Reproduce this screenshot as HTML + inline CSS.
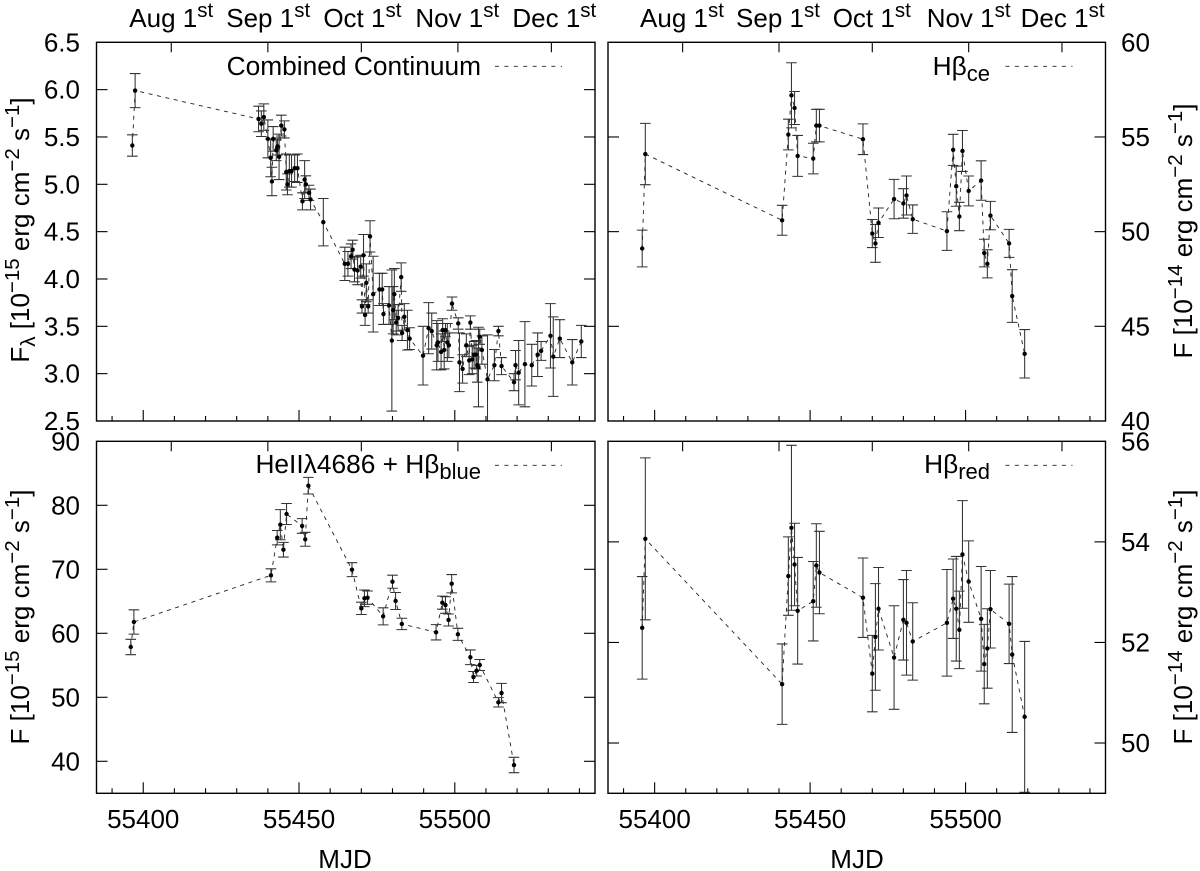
<!DOCTYPE html>
<html lang="en">
<head>
<meta charset="utf-8">
<title>Light curves</title>
<style>
html,body{margin:0;padding:0;background:#fff;}
svg{display:block;}
text{font-family:"Liberation Sans",sans-serif;font-size:26px;fill:#000;}
.s{font-size:20.5px;}
.k{font-size:26.3px;}
.b{font-size:22px;}
</style>
</head>
<body>
<svg id="chart" width="1200" height="871" viewBox="0 0 1200 871" xmlns="http://www.w3.org/2000/svg">
<rect x="0" y="0" width="1200" height="871" fill="#fff"/>
<g id="panels"></g>

<text class="k" x="481" y="75" text-anchor="end">Combined Continuum</text>
<text class="k" x="990" y="75" text-anchor="end">Hβ<tspan class="b" dy="6">ce</tspan></text>
<text class="k" x="481" y="473" text-anchor="end">HeIIλ4686 + Hβ<tspan class="b" dy="6">blue</tspan></text>
<text class="k" x="990" y="473" text-anchor="end">Hβ<tspan class="b" dy="6">red</tspan></text>

<text transform="translate(29,230) rotate(-90)" text-anchor="middle">F<tspan class="s" dy="6">λ</tspan><tspan dy="-6"> [10</tspan><tspan class="s" dy="-10">−15</tspan><tspan dy="10"> erg cm</tspan><tspan class="s" dy="-10">−2</tspan><tspan dy="10"> s</tspan><tspan class="s" dy="-10">−1</tspan><tspan dy="10">]</tspan></text>
<text transform="translate(29,617) rotate(-90)" text-anchor="middle">F [10<tspan class="s" dy="-10">−15</tspan><tspan dy="10"> erg cm</tspan><tspan class="s" dy="-10">−2</tspan><tspan dy="10"> s</tspan><tspan class="s" dy="-10">−1</tspan><tspan dy="10">]</tspan></text>
<text transform="translate(1192,231) rotate(-90)" text-anchor="middle">F [10<tspan class="s" dy="-10">−14</tspan><tspan dy="10"> erg cm</tspan><tspan class="s" dy="-10">−2</tspan><tspan dy="10"> s</tspan><tspan class="s" dy="-10">−1</tspan><tspan dy="10">]</tspan></text>
<text transform="translate(1192,617) rotate(-90)" text-anchor="middle">F [10<tspan class="s" dy="-10">−14</tspan><tspan dy="10"> erg cm</tspan><tspan class="s" dy="-10">−2</tspan><tspan dy="10"> s</tspan><tspan class="s" dy="-10">−1</tspan><tspan dy="10">]</tspan></text>

<text x="345" y="868" text-anchor="middle">MJD</text>
<text x="857" y="868" text-anchor="middle">MJD</text>
</svg>
<script>
const contMjd = [55396.5,55397.4,55437,55437.9,55438.7,55440,55440.9,55441.3,55441.7,55442.7,55443.1,55443.6,55444.3,55445.3,55445.9,55446.3,55446.9,55447.6,55448.6,55449.5,55451.1,55451.8,55452.2,55453.2,55453.7,55457.8,
55464.7,55465.7,55466.7,55467.2,55467.8,55468.8,55469.8,55470.2,55470.7,55471.2,55471.6,55472.2,55472.8,55473.8,55475.8,55476.7,55477.1,55478.9,55479.8,55480.2,55480.6,55481.2,55481.8,55482.8,55483.1,55483.8,55484.8,55485.5,
55489.8,55491.6,55492.6,55494.2,55494.6,55495.6,55496.1,55496.6,55497,55497.6,55498.1,55499.1,55501.1,55501.5,55502.5,55503.7,55504.6,55505,55505.6,55506.2,55506.8,55507.2,55507.6,55508,55508.7,55510.5,55512.7,55514,55515,55519,55519.5,55520.5,55522.5,55524.7,55526.6,55527.7,55530.7,55531.6,55533.7,55537.7,55540.6];
const contVal = [5.41,5.99,5.69,5.64,5.71,5.48,5.28,5.03,5.48,5.36,5.40,5.29,5.62,5.58,5.13,5.00,5.14,5.14,5.17,5.17,4.82,5.05,5.00,4.91,4.84,4.60,
4.16,4.16,4.24,4.31,4.10,4.09,4.13,3.71,4.25,3.62,3.96,3.71,4.45,3.84,3.89,3.89,3.63,3.72,3.35,3.67,3.84,3.54,3.59,4.02,3.43,3.60,3.46,3.37,
3.19,3.48,3.45,3.30,3.33,3.23,3.46,3.25,3.46,3.33,3.30,3.74,3.53,3.12,3.05,3.30,3.14,3.54,3.15,3.20,3.20,3.09,3.07,3.39,3.25,2.94,3.09,3.45,3.08,2.91,3.09,3.01,3.10,3.09,3.20,3.24,3.40,3.18,3.37,3.12,3.34];
const contErr = [0.113,0.18,0.135,0.135,0.14,0.2,0.2,0.15,0.13,0.11,0.09,0.24,0.11,0.09,0.19,0.11,0.17,0.17,0.14,0.15,0.09,0.2,0.09,0.08,0.11,0.25,
0.176,0.13,0.13,0.1,0.13,0.15,0.12,0.07,0.22,0.11,0.2,0.07,0.165,0.4,0.17,0.17,0.11,0.2,0.745,0.25,0.27,0.13,0.14,0.15,0.08,0.14,0.21,0.115,
0.31,0.27,0.19,0.26,0.2,0.19,0.12,0.2,0.07,0.2,0.13,0.07,0.06,0.31,0.15,0.12,0.15,0.07,0.15,0.14,0.15,0.18,0.42,0.08,0.15,0.47,0.165,0.05,0.09,0.09,0.155,0.34,0.45,0.22,0.23,0.1,0.34,0.42,0.2,0.24,0.17];

const lineMjd = [55396,55397,55441,55443,55444,55445,55446,55451,55452,55453,55467,55470,55471,55472,55477,55480,55481,55483,55494,55496,55497,55498,55499,55501,55505,55506,55507,55508,55514,55515,55519];
const ceVal = [49.11,54.1,50.6,55.13,57.2,56.53,54.0,53.86,55.6,55.6,54.88,49.9,49.38,50.47,51.72,51.49,51.91,50.66,50.03,54.32,52.4,50.8,54.26,52.15,52.7,48.87,48.3,50.85,49.38,46.6,43.55];
const ceErr = [0.97,1.62,0.79,0.81,1.72,0.87,1.08,0.81,0.86,0.86,0.81,0.74,1.0,0.78,1.04,0.78,1.03,0.75,1.02,0.82,1.06,0.75,1.08,0.79,1.04,0.73,0.74,0.75,0.74,1.39,1.28];
const heVal = [57.86,61.77,69.06,74.94,76.97,73.06,78.64,76.77,74.69,83.06,69.94,63.9,65.47,65.57,62.65,68.06,65.05,61.46,60.16,64.79,64.42,62.08,67.75,59.84,56.25,53.17,54.16,55.05,49.22,50.67,39.42];
const heErr = [1.2,1.9,1.02,1.12,2.35,1.15,1.64,1.15,1.09,1.3,1.09,0.96,1.3,1.04,1.33,1.02,1.33,0.89,1.2,1.02,1.3,0.94,1.43,0.94,1.15,0.86,0.83,0.86,0.73,1.51,1.2];
const redVal = [52.29,54.06,51.17,53.32,54.28,53.55,52.63,52.82,53.53,53.39,52.89,51.38,52.11,52.67,51.7,52.45,52.39,52.02,52.39,52.87,52.67,52.25,53.75,53.21,52.47,51.57,51.88,52.66,52.37,51.76,50.52];
const redErr = [1.02,1.61,0.8,0.78,1.64,0.82,1.06,0.79,0.83,0.82,0.79,0.76,1.06,0.82,1.03,0.8,1.04,0.77,1.06,0.79,1.04,0.77,1.07,0.81,1.04,0.79,0.79,0.77,0.79,1.55,1.5];

const xMajorTicks = [55400,55450,55500];
const xMinorTicks = [55390,55410,55420,55430,55440,55460,55470,55480,55490,55510,55520,55530,55540];
const monthNames = ["Aug 1","Sep 1","Oct 1","Nov 1","Dec 1"];
const monthMjd = [55409,55440,55470,55501,55531];
const contTicks = [2.5,3.0,3.5,4.0,4.5,5.0,5.5,6.0,6.5];
const ceTicks = [40,45,50,55,60];
const heTicks = [40,50,60,70,80,90];
const redTicks = [50,52,54,56];
const xDomain = [55385,55545];

const NS = 'http://www.w3.org/2000/svg';
const root = document.getElementById('panels');

function mk(parent, tag, attrs, txt) {
  const e = document.createElementNS(NS, tag);
  for (const k in attrs) e.setAttribute(k, attrs[k]);
  if (txt !== undefined) e.textContent = txt;
  parent.appendChild(e);
  return e;
}

function drawPanel(cfg) {
  const g = mk(root, 'g', {});
  
  
  const sx = v => cfg.l + (v - xDomain[0]) / (xDomain[1] - xDomain[0]) * (cfg.r - cfg.l);
  const sy = v => cfg.b - (v - cfg.yMin) / (cfg.yMax - cfg.yMin) * (cfg.b - cfg.t);
  const clipId = cfg.name + '-clip';
  const cp = mk(g, 'clipPath', {id: clipId});
  mk(cp, 'rect', {x: cfg.l, y: cfg.t, width: cfg.r - cfg.l, height: cfg.b - cfg.t});

  const ticks = mk(g, 'g', {stroke: '#000', 'stroke-width': 1.1, fill: 'none'});
  
  
  xMinorTicks.forEach(v => {
    mk(ticks, 'line', {x1: sx(v), x2: sx(v), y1: cfg.b, y2: cfg.b - 5});
  });
  xMajorTicks.forEach(v => {
    mk(ticks, 'line', {x1: sx(v), x2: sx(v), y1: cfg.b, y2: cfg.b - 11});
    if (cfg.xLabels) {
      const t = mk(g, 'text', {x: sx(v), y: 828, 'text-anchor': 'middle'}, String(v));
      
      
    }
  });
  monthMjd.forEach((v, i) => {
    mk(ticks, 'line', {x1: sx(v), x2: sx(v), y1: cfg.t, y2: cfg.t + 10});
    if (cfg.monthOffsets) {
      const t = mk(g, 'text', {x: sx(v) - cfg.monthOffsets[i], y: 27}, monthNames[i]);
      
      
      const s = mk(t, 'tspan', {class: 's', dy: -10}, 'st');
      
      
    }
  });
  cfg.yTicks.forEach(v => {
    const y = sy(v);
    if (v !== cfg.yMin && v !== cfg.yMax) {
      mk(ticks, 'line', {x1: cfg.l, x2: cfg.l + 11, y1: y, y2: y});
      mk(ticks, 'line', {x1: cfg.r, x2: cfg.r - 11, y1: y, y2: y});
    }
    const isLeft = cfg.side === 'left';
    const t = mk(g, 'text', {x: isLeft ? 80 : 1121, y: y + 9, 'text-anchor': isLeft ? 'end' : 'start'}, cfg.fmt(v));
    
    
  });

  const data = mk(g, 'g', {'clip-path': 'url(#' + clipId + ')'});
  
  
  const pts = cfg.mjd.map((m, i) => sx(m).toFixed(2) + ',' + sy(cfg.val[i]).toFixed(2)).join(' ');
  const line = mk(data, 'polyline', {points: pts, fill: 'none', stroke: '#222', 'stroke-width': 0.9, 'stroke-dasharray': '4 4.6'});
  
  
  cfg.mjd.forEach((m, i) => {
    const x = sx(m), y0 = sy(cfg.val[i] - cfg.err[i]), y1 = sy(cfg.val[i] + cfg.err[i]);
    const bar = mk(data, 'path', {
      d: 'M' + x + ' ' + y0 + 'V' + y1 + 'M' + (x - 5.3) + ' ' + y0 + 'H' + (x + 5.3) + 'M' + (x - 5.3) + ' ' + y1 + 'H' + (x + 5.3),
      fill: 'none', stroke: '#333', 'stroke-width': 1.05
    });
    
    
  });
  cfg.mjd.forEach((m, i) => {
    const c = mk(data, 'circle', {cx: sx(m), cy: sy(cfg.val[i]), r: 2.2, fill: '#000'});
    
    
  });

  const frame = mk(g, 'rect', {x: cfg.l, y: cfg.t, width: cfg.r - cfg.l, height: cfg.b - cfg.t, fill: 'none', stroke: '#000', 'stroke-width': 1.4});
  
  

  const key = mk(g, 'line', {x1: cfg.r - 100, x2: cfg.r - 33, y1: cfg.t + 24, y2: cfg.t + 24, stroke: '#222', 'stroke-width': 0.9, 'stroke-dasharray': '4 5.4'});
  
  
}

drawPanel({name: 'continuum', l: 96.5, r: 595, t: 42.3, b: 421, yMin: 2.5, yMax: 6.5, yTicks: contTicks, side: 'left', monthOffsets: [42, 41.6, 38, 42.6, 39], xLabels: false, fmt: v => v.toFixed(1), mjd: contMjd, val: contVal, err: contErr});
drawPanel({name: 'hbeta-ce', l: 608, r: 1105.5, t: 42.3, b: 421, yMin: 40, yMax: 60, yTicks: ceTicks, side: 'right', monthOffsets: [42.6, 43, 39.6, 42, 41.3], xLabels: false, fmt: v => String(v), mjd: lineMjd, val: ceVal, err: ceErr});
drawPanel({name: 'heii-hbeta-blue', l: 96.5, r: 595, t: 441.3, b: 793.3, yMin: 35, yMax: 90, yTicks: heTicks, side: 'left', monthOffsets: null, xLabels: true, fmt: v => String(v), mjd: lineMjd, val: heVal, err: heErr});
drawPanel({name: 'hbeta-red', l: 608, r: 1105.5, t: 441.3, b: 793.3, yMin: 49, yMax: 56, yTicks: redTicks, side: 'right', monthOffsets: null, xLabels: true, fmt: v => String(v), mjd: lineMjd, val: redVal, err: redErr});
</script>
</body>
</html>
